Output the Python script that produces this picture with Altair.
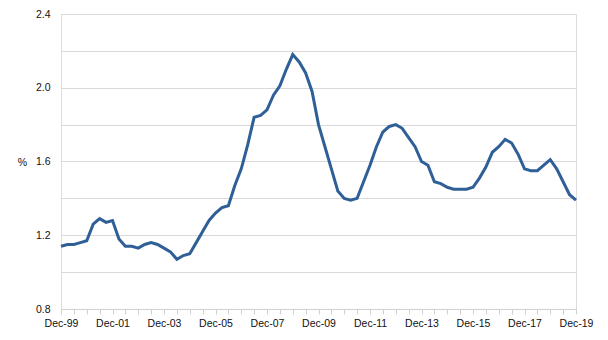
import json
import altair as alt
import pandas as pd

# Quarterly values, Dec-99 .. Dec-19 (%)
values = [
    1.14, 1.15, 1.15, 1.16, 1.17, 1.26, 1.29, 1.27, 1.28, 1.18,
    1.14, 1.14, 1.13, 1.15, 1.16, 1.15, 1.13, 1.11, 1.07, 1.09,
    1.10, 1.16, 1.22, 1.28, 1.32, 1.35, 1.36, 1.47, 1.56, 1.69,
    1.84, 1.85, 1.88, 1.96, 2.01, 2.10, 2.18, 2.14, 2.08, 1.98,
    1.80, 1.68, 1.56, 1.44, 1.40, 1.39, 1.40, 1.49, 1.58, 1.68,
    1.76, 1.79, 1.80, 1.78, 1.73, 1.68, 1.60, 1.58, 1.49, 1.48,
    1.46, 1.45, 1.45, 1.45, 1.46, 1.51, 1.57, 1.65, 1.68, 1.72,
    1.70, 1.64, 1.56, 1.55, 1.55, 1.58, 1.61, 1.56, 1.49, 1.42,
    1.39,
]
x_labels = ["Dec-99", "Dec-01", "Dec-03", "Dec-05", "Dec-07", "Dec-09",
            "Dec-11", "Dec-13", "Dec-15", "Dec-17", "Dec-19"]
y_ticks = [0.8, 1.0, 1.2, 1.4, 1.6, 1.8, 2.0, 2.2, 2.4]

df = pd.DataFrame({"q": list(range(len(values))), "v": values})

font = "Liberation Sans"
x_expr = ("datum.value % 8 == 0 ? " + json.dumps(x_labels) +
          "[datum.value / 8] : ''")
y_expr = "(round(datum.value*10) % 4 == 0) ? format(datum.value, '.1f') : ''"

chart = alt.Chart(df).mark_line(color="#2F5F97", strokeWidth=3).encode(
    x=alt.X("q:Q",
            scale=alt.Scale(domain=[0, 80], nice=False, zero=False),
            axis=alt.Axis(values=list(range(0, 81, 2)), labelExpr=x_expr,
                          grid=False, domainColor="#d0d0d0", tickColor="#d0d0d0",
                          tickSize=5, labelFont=font, labelFontSize=10.5,
                          labelColor="#111", labelPadding=4, labelFlush=False,
                          labelOverlap=False, title=None)),
    y=alt.Y("v:Q",
            scale=alt.Scale(domain=[0.8, 2.4], nice=False, zero=False),
            axis=alt.Axis(values=y_ticks, labelExpr=y_expr, grid=True,
                          gridColor="#d9d9d9", gridWidth=1, domain=False,
                          ticks=False, labelFont=font, labelFontSize=10.5,
                          labelColor="#111", labelPadding=11,
                          title="%", titleAngle=0, titleFont=font,
                          titleFontSize=10.5, titleFontWeight="normal",
                          titleColor="#111", titleX=-39, titleY=148,
                          titleAlign="center", titleBaseline="middle")),
).properties(
    width=515, height=295,
    padding={"left": 61, "top": 14, "right": 32, "bottom": 31},
    autosize=alt.AutoSizeParams(type="none"),
).configure_view(stroke=None).configure(background="white")

chart.save("out.html", embed_options={"renderer": "svg", "actions": False})
